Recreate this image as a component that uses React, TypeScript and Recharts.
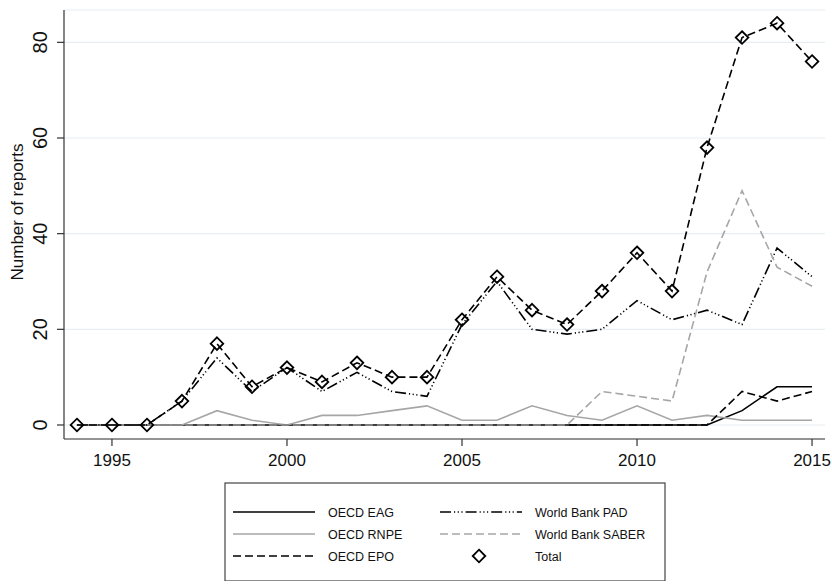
import React from 'react';
import { LineChart, Line, XAxis, YAxis, CartesianGrid } from 'recharts';

const years = [1994, 1995, 1996, 1997, 1998, 1999, 2000, 2001, 2002, 2003, 2004, 2005, 2006, 2007, 2008, 2009, 2010, 2011, 2012, 2013, 2014, 2015];
const oecdEAG = [0, 0, 0, 0, 0, 0, 0, 0, 0, 0, 0, 0, 0, 0, 0, 0, 0, 0, 0, 3, 8, 8];
const oecdRNPE = [0, 0, 0, 0, 3, 1, 0, 2, 2, 3, 4, 1, 1, 4, 2, 1, 4, 1, 2, 1, 1, 1];
const oecdEPO = [0, 0, 0, 0, 0, 0, 0, 0, 0, 0, 0, 0, 0, 0, 0, 0, 0, 0, 0, 7, 5, 7];
const wbPAD = [0, 0, 0, 5, 14, 7, 12, 7, 11, 7, 6, 21, 30, 20, 19, 20, 26, 22, 24, 21, 37, 31];
const wbSABER = [0, 0, 0, 0, 0, 0, 0, 0, 0, 0, 0, 0, 0, 0, 0, 7, 6, 5, 32, 49, 33, 29];
const total = [0, 0, 0, 5, 17, 8, 12, 9, 13, 10, 10, 22, 31, 24, 21, 28, 36, 28, 58, 81, 84, 76];

const xTicks = [1995, 2000, 2005, 2010, 2015];
const yTicks = [0, 20, 40, 60, 80];

const data = years.map((year, i) => ({
  year,
  eag: oecdEAG[i],
  rnpe: oecdRNPE[i],
  epo: oecdEPO[i],
  pad: wbPAD[i],
  saber: wbSABER[i],
  total: total[i],
}));

type Series = { key: string; name: string; color: string; dash?: string; marker?: boolean };

const series: Series[] = [
  { key: 'eag', name: 'OECD EAG', color: '#000000' },
  { key: 'rnpe', name: 'OECD RNPE', color: '#a6a6a6' },
  { key: 'epo', name: 'OECD EPO', color: '#000000', dash: '8 4' },
  { key: 'pad', name: 'World Bank PAD', color: '#000000', dash: '11 3 1.2 2.5 1.2 2.5 1.2 3' },
  { key: 'saber', name: 'World Bank SABER', color: '#a6a6a6', dash: '8 4' },
  { key: 'total', name: 'Total', color: '#000000', dash: '8 4', marker: true },
];

const FONT = '"Liberation Sans", Arial, Helvetica, sans-serif';

const Diamond = (props: any) => {
  const { cx, cy } = props;
  if (cx == null || cy == null) return null;
  const r = 6.3;
  return (
    <path
      key={`d-${cx}-${cy}`}
      d={`M${cx},${cy - r} L${cx + r},${cy} L${cx},${cy + r} L${cx - r},${cy} Z`}
      fill="none"
      stroke="#000"
      strokeWidth={1.8}
    />
  );
};

const XTick = (props: any) => {
  const { x, y, payload } = props;
  return (
    <text x={x} y={y + 18} textAnchor="middle" fontSize={17} fontFamily={FONT} fill="#111">
      {payload.value}
    </text>
  );
};

const YTick = (props: any) => {
  const { x, y, payload } = props;
  const bx = x - 8;
  return (
    <text
      x={bx}
      y={y}
      textAnchor="middle"
      fontSize={20}
      fontFamily={FONT}
      fill="#111"
      transform={`rotate(-90, ${bx}, ${y})`}
    >
      {payload.value}
    </text>
  );
};

const YTitle = () => (
  <text
    x={23}
    y={212}
    textAnchor="middle"
    fontSize={17}
    fontFamily={FONT}
    fill="#111"
    transform="rotate(-90, 23, 212)"
  >
    Number of reports
  </text>
);

const LegendBox = () => {
  const col1 = series.slice(0, 3);
  const col2 = series.slice(3, 6);
  const rowY = [30, 52, 74];
  return (
    <svg
      width={442}
      height={99}
      style={{ position: 'absolute', left: 224, top: 482 }}
    >
      <rect x={1} y={1} width={440} height={98} fill="#fff" stroke="#444" strokeWidth={1.2} />
      {col1.map((s, i) => (
        <g key={s.key}>
          <line x1={9} x2={91} y1={rowY[i]} y2={rowY[i]} stroke={s.color} strokeWidth={1.6} strokeDasharray={s.dash} />
          <text x={104} y={rowY[i] + 4.5} fontSize={12.5} fontFamily={FONT} fill="#111">{s.name}</text>
        </g>
      ))}
      {col2.map((s, i) => (
        <g key={s.key}>
          {s.marker ? (
            <Diamond cx={255} cy={rowY[i]} />
          ) : (
            <line x1={216} x2={298} y1={rowY[i]} y2={rowY[i]} stroke={s.color} strokeWidth={1.6} strokeDasharray={s.dash} />
          )}
          <text x={311} y={rowY[i] + 4.5} fontSize={12.5} fontFamily={FONT} fill="#111">{s.name}</text>
        </g>
      ))}
    </svg>
  );
};

export default function App() {
  return (
    <div style={{ position: 'absolute', left: 0, top: 0, width: 832, height: 584, background: '#fff', fontFamily: FONT }}>
      <LineChart
        width={832}
        height={584}
        data={data}
        margin={{ top: 10, right: 7, left: 4, bottom: 105 }}
      >
        <CartesianGrid horizontal={true} vertical={false} stroke="#e6eef1" strokeWidth={1.2} />
        <XAxis
          dataKey="year"
          type="number"
          domain={[1993.63, 2015.37]}
          ticks={xTicks}
          allowDataOverflow
          height={40}
          tickSize={7}
          axisLine={{ stroke: '#333', strokeWidth: 1.2 }}
          tickLine={{ stroke: '#333', strokeWidth: 1.2 }}
          tick={<XTick />}
          interval={0}
        />
        <YAxis
          type="number"
          domain={[-2.93, 86.76]}
          ticks={yTicks}
          allowDataOverflow
          width={60}
          tickSize={7}
          axisLine={{ stroke: '#333', strokeWidth: 1.2 }}
          tickLine={{ stroke: '#333', strokeWidth: 1.2 }}
          tick={<YTick />}
          interval={0}
          label={<YTitle />}
        />
        {series.map((s) => (
          <Line
            key={s.key}
            dataKey={s.key}
            name={s.name}
            type="linear"
            stroke={s.color}
            strokeWidth={1.6}
            strokeDasharray={s.dash}
            dot={s.marker ? <Diamond /> : false}
            activeDot={false}
            isAnimationActive={false}
          />
        ))}
      </LineChart>
      <LegendBox />
    </div>
  );
}
